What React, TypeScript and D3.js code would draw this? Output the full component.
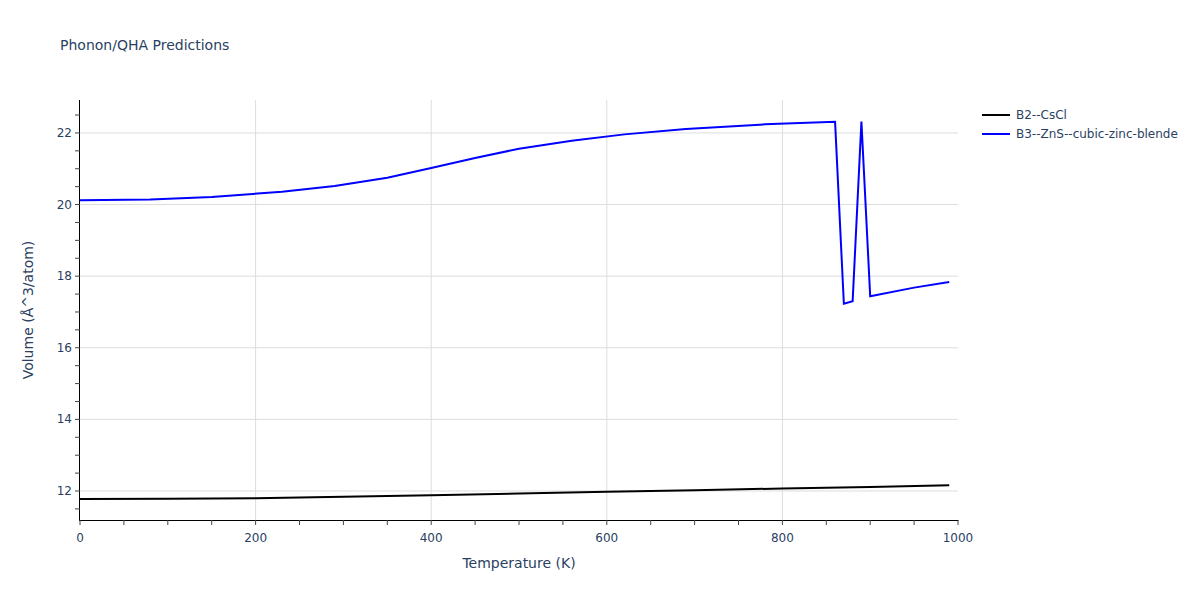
import React from "react";
import * as d3 from "d3";

const b2Temps = [0, 100, 200, 300, 400, 500, 600, 700, 800, 900, 990];
const b2Volumes = [11.78, 11.785, 11.8, 11.84, 11.88, 11.93, 11.98, 12.02, 12.07, 12.11, 12.16];

const b3Temps = [0, 80, 150, 230, 290, 350, 400, 450, 500, 560, 620, 690, 780, 860, 870, 880, 890, 900, 950, 990];
const b3Volumes = [20.12, 20.14, 20.21, 20.36, 20.52, 20.75, 21.02, 21.3, 21.56, 21.78, 21.96, 22.11, 22.24, 22.31, 17.23, 17.3, 22.32, 17.44, 17.68, 17.84];

const seriesNames = ["B2--CsCl", "B3--ZnS--cubic-zinc-blende"];
const seriesColors = ["#000000", "#0000ff"];

const xTicks = [0, 200, 400, 600, 800, 1000];
const yTicks = [12, 14, 16, 18, 20, 22];

const W = 1200;
const H = 600;
const M = { left: 80, right: 242, top: 100, bottom: 80 };
const FONT = "'DejaVu Sans', Verdana, sans-serif";
const TXT = "#2a3f5f";

export default function App() {
  const x = d3.scaleLinear().domain([0, 1000]).range([M.left, W - M.right]);
  const y = d3.scaleLinear().domain([11.19, 22.92]).range([H - M.bottom, M.top]);
  const line = d3
    .line<[number, number]>()
    .x((d) => x(d[0]))
    .y((d) => y(d[1]));
  const b2 = b2Temps.map((t, i) => [t, b2Volumes[i]] as [number, number]);
  const b3 = b3Temps.map((t, i) => [t, b3Volumes[i]] as [number, number]);
  const xMinor = d3.range(0, 1001, 50);
  const yMinor = d3.range(11.5, 22.9, 0.5);
  const x0 = M.left;
  const x1 = W - M.right;
  const yb = H - M.bottom;
  const yt = M.top;

  return (
    <svg width={W} height={H} style={{ display: "block", position: "absolute", left: 0, top: 0 }} fontFamily={FONT}>
      <rect width={W} height={H} fill="#fff" />
      {/* grid */}
      {xTicks.filter((t) => t > 0 && t < 1000).map((t) => (
        <line key={"gx" + t} x1={x(t)} x2={x(t)} y1={yt} y2={yb} stroke="#dddddd" strokeWidth={1} />
      ))}
      {yTicks.map((t) => (
        <line key={"gy" + t} x1={x0} x2={x1} y1={y(t)} y2={y(t)} stroke="#dddddd" strokeWidth={1} />
      ))}
      {/* lines */}
      <path d={line(b2) || ""} fill="none" stroke={seriesColors[0]} strokeWidth={2} />
      <path d={line(b3) || ""} fill="none" stroke={seriesColors[1]} strokeWidth={2} />
      {/* axes */}
      <line x1={x0 - 0.5} x2={x0 - 0.5} y1={yt} y2={yb + 1} stroke="#000" strokeWidth={1} />
      <line x1={x0 - 1} x2={x1 + 0.5} y1={yb + 0.5} y2={yb + 0.5} stroke="#000" strokeWidth={1} />
      {xMinor.map((t) => (
        <line key={"xt" + t} x1={x(t)} x2={x(t)} y1={yb} y2={yb + 5} stroke="#444" strokeWidth={1} />
      ))}
      {yMinor.map((t) => (
        <line key={"yt" + t} x1={x0 - 5} x2={x0} y1={y(t)} y2={y(t)} stroke="#444" strokeWidth={1} />
      ))}
      {xTicks.map((t) => (
        <text key={"xl" + t} x={x(t)} y={yb + 22} textAnchor="middle" fontSize={12} fill={TXT}>
          {t}
        </text>
      ))}
      {yTicks.map((t) => (
        <text key={"yl" + t} x={x0 - 8} y={y(t) + 4} textAnchor="end" fontSize={12} fill={TXT}>
          {t}
        </text>
      ))}
      {/* axis titles */}
      <text x={(x0 + x1) / 2} y={568} textAnchor="middle" fontSize={14} fill={TXT}>
        Temperature (K)
      </text>
      <text transform={`translate(33,${(yt + yb) / 2}) rotate(-90)`} textAnchor="middle" fontSize={14} fill={TXT}>
        Volume (Å^3/atom)
      </text>
      {/* title */}
      <text x={60} y={50} fontSize={14} fill={TXT}>
        Phonon/QHA Predictions
      </text>
      {/* legend */}
      {seriesNames.map((n, i) => (
        <g key={n} transform={`translate(982,${115 + i * 19})`}>
          <line x1={0} x2={28} y1={0} y2={0} stroke={seriesColors[i]} strokeWidth={2} />
          <text x={34} y={4} fontSize={12} fill={TXT}>
            {n}
          </text>
        </g>
      ))}
    </svg>
  );
}
